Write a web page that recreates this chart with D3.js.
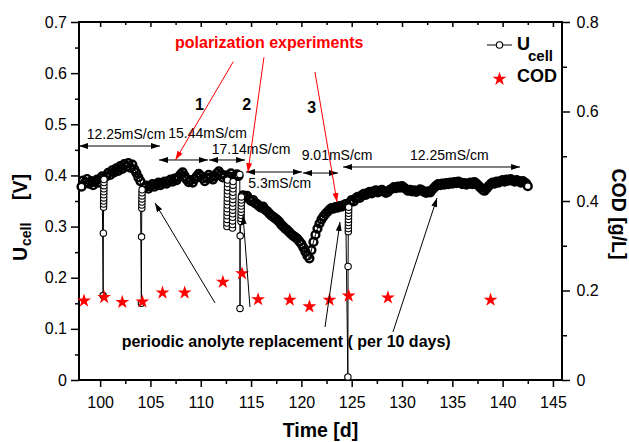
<!DOCTYPE html>
<html>
<head>
<meta charset="utf-8">
<script src="https://cdn.jsdelivr.net/npm/d3@7"></script>
<style>
  body { margin: 0; background: #fff; }
  svg { display: block; }
</style>
</head>
<body>
<svg id="chart"></svg>
<script>
// Cell voltage record, split at the anolyte replacements / polarization tests  [time d, Ucell V]
const periodA = [[98.15,0.378],[98.3,0.390],[98.5,0.386],[98.7,0.393],[98.9,0.384],[99.1,0.389],[99.3,0.381],
  [99.5,0.387],[99.7,0.392],[99.9,0.386],[100.05,0.394],[100.2,0.398]];
const dip1 = [[100.30,0.165],[100.32,0.287],[100.34,0.338],[100.345,0.344],[100.35,0.350],[100.355,0.356],
  [100.36,0.362],[100.365,0.368],[100.37,0.374],[100.375,0.380],[100.38,0.386],[100.385,0.392]];
const periodB = [[100.6,0.398],[100.8,0.405],[101.0,0.401],[101.2,0.410],[101.4,0.406],[101.6,0.414],[101.8,0.409],
  [102.0,0.418],[102.2,0.413],[102.4,0.422],[102.6,0.417],[102.8,0.424],[103.0,0.415],[103.2,0.421],[103.4,0.412],
  [103.6,0.405],[103.8,0.396],[104.0,0.389]];
const dip2 = [[104.10,0.150],[104.12,0.280],[104.14,0.336],[104.145,0.342],[104.15,0.348],[104.155,0.354],
  [104.16,0.360],[104.165,0.366],[104.17,0.372]];
const periodC = [[104.4,0.376],[104.6,0.380],[104.8,0.374],[105.0,0.379],[105.2,0.383],[105.4,0.378],[105.6,0.382],
  [105.8,0.386],[106.0,0.381],[106.2,0.385],[106.4,0.388],[106.6,0.384],[106.8,0.389],[107.0,0.392],[107.2,0.388],
  [107.4,0.394],[107.6,0.391],[107.8,0.397],[108.0,0.402],[108.2,0.406],[108.4,0.399],[108.6,0.392],[108.8,0.387],
  [109.0,0.391],[109.2,0.386],[109.4,0.393],[109.6,0.398],[109.8,0.403],[110.0,0.399],[110.2,0.394],[110.4,0.389],
  [110.6,0.395],[110.8,0.401],[111.0,0.396],[111.2,0.392],[111.4,0.398],[111.6,0.404],[111.8,0.408],[112.0,0.402],
  [112.2,0.396],[112.4,0.400]];
const dip3a = [[112.60,0.300],[112.605,0.307],[112.61,0.314],[112.615,0.321],[112.62,0.328],[112.625,0.335],
  [112.63,0.342],[112.635,0.349],[112.64,0.356],[112.645,0.363],[112.65,0.370],[112.655,0.377],[112.66,0.384],
  [112.665,0.391]];
const periodC2 = [[112.8,0.398],[113.0,0.404]];
const dip3b = [[113.15,0.297],[113.155,0.304],[113.16,0.311],[113.165,0.318],[113.17,0.325],[113.175,0.332],
  [113.18,0.339],[113.185,0.346],[113.19,0.353],[113.195,0.360],[113.20,0.367],[113.205,0.374],[113.21,0.381],
  [113.215,0.388]];
const periodD = [[113.4,0.398],[113.6,0.402],[113.75,0.399]];
const dip4 = [[113.88,0.402],[113.90,0.140],[113.92,0.282],[114.0,0.310],[114.005,0.316],[114.01,0.322],
  [114.015,0.328],[114.02,0.334],[114.025,0.340],[114.03,0.346],[114.035,0.352],[114.04,0.358]];
const periodE = [[114.2,0.361],[114.4,0.357],[114.6,0.360],[114.8,0.354],[115.0,0.350],[115.2,0.352],[115.4,0.346],
  [115.6,0.344],[115.8,0.340],[116.0,0.337],[116.2,0.339],[116.4,0.333],[116.6,0.330],[116.8,0.326],[117.0,0.322],
  [117.2,0.319],[117.4,0.316],[117.6,0.313],[117.8,0.309],[118.0,0.304],[118.2,0.300],[118.4,0.296],[118.6,0.293],
  [118.8,0.289],[119.0,0.285],[119.2,0.282],[119.4,0.279],[119.6,0.276],[119.8,0.271],[120.0,0.266],[120.2,0.259],
  [120.4,0.251],[120.6,0.243],[120.8,0.238],[121.0,0.254],[121.2,0.270],[121.4,0.284],[121.6,0.296],[121.8,0.306],
  [122.0,0.314],[122.2,0.320],[122.4,0.325],[122.6,0.329],[122.8,0.333],[123.0,0.336],[123.2,0.335],[123.4,0.338],
  [123.6,0.337],[123.8,0.340],[124.0,0.339],[124.2,0.342],[124.4,0.344]];
const dip5 = [[124.62,0.006],[124.64,0.222],[124.66,0.290],[124.665,0.296],[124.67,0.302],[124.675,0.308],
  [124.68,0.314],[124.685,0.320],[124.69,0.326],[124.695,0.332],[124.70,0.338]];
const periodF = [[124.85,0.348],[125.0,0.352],[125.2,0.349],[125.4,0.355],[125.6,0.358],[125.8,0.356],[126.0,0.361],
  [126.2,0.364],[126.4,0.362],[126.6,0.366],[126.8,0.368],[127.0,0.365],[127.2,0.369],[127.4,0.371],[127.6,0.367],
  [127.8,0.370],[128.0,0.372],[128.2,0.369],[128.4,0.366],[128.6,0.368],[128.8,0.372],[129.0,0.374],[129.2,0.377],
  [129.4,0.375],[129.6,0.378],[129.8,0.376],[130.0,0.379],[130.2,0.376],[130.4,0.373],[130.6,0.370],[130.8,0.372],
  [131.0,0.369],[131.2,0.371],[131.4,0.368],[131.6,0.370],[131.8,0.373],[132.0,0.371],[132.2,0.368],[132.4,0.366],
  [132.6,0.369],[132.8,0.367],[133.0,0.372],[133.2,0.376],[133.4,0.380],[133.6,0.383],[133.8,0.381],[134.0,0.384],
  [134.2,0.382],[134.4,0.385],[134.6,0.383],[134.8,0.386],[135.0,0.384],[135.2,0.387],[135.4,0.385],[135.6,0.388],
  [135.8,0.386],[136.0,0.383],[136.2,0.385],[136.4,0.382],[136.6,0.384],[136.8,0.386],[137.0,0.383],[137.2,0.387],
  [137.4,0.384],[137.6,0.380],[137.8,0.376],[138.0,0.372],[138.2,0.370],[138.4,0.374],[138.6,0.379],[138.8,0.383],
  [139.0,0.386],[139.2,0.384],[139.4,0.388],[139.6,0.386],[139.8,0.389],[140.0,0.391],[140.2,0.388],[140.4,0.392],
  [140.6,0.390],[140.8,0.393],[141.0,0.390],[141.2,0.388],[141.4,0.391],[141.6,0.389],[141.8,0.386],[142.0,0.389],
  [142.2,0.386],[142.35,0.384],[142.5,0.379]];

// COD samples
const codTime = [98.4, 100.4, 102.2, 104.2, 106.2, 108.4, 112.2, 114.1, 115.7, 118.85, 120.8, 122.8, 124.7, 128.6, 138.8];
const codValue = [0.177, 0.185, 0.174, 0.175, 0.195, 0.195, 0.219, 0.238, 0.180, 0.179, 0.164, 0.179, 0.188, 0.184, 0.179];

// ticks
const xTicks = [100, 105, 110, 115, 120, 125, 130, 135, 140, 145];
const xMinor = [102.5, 107.5, 112.5, 117.5, 122.5, 127.5, 132.5, 137.5, 142.5];
const uTicks = [0, 0.1, 0.2, 0.3, 0.4, 0.5, 0.6, 0.7];
const uMinor = [0.05, 0.15, 0.25, 0.35, 0.45, 0.55, 0.65];
const codTicks = [0, 0.2, 0.4, 0.6, 0.8];
const codMinor = [0.1, 0.3, 0.5, 0.7];

// conductivity periods: [from, to, level (V), label, label time, label level]
const condArrows = [
  [97.9, 105.95, 0.4575, "12.25mS/cm", 98.67, 0.4707],
  [105.85, 110.72, 0.4302, "15.44mS/cm", 106.77, 0.4726],
  [110.82, 114.4, 0.4302, "17.14mS/cm", 111.09, 0.4419],
  [114.5, 120.06, 0.4067, "5.3mS/cm", 114.72, 0.3754],
  [120.16, 123.64, 0.4047, "9.01mS/cm", 120.03, 0.4302],
  [124.14, 141.73, 0.4165, "12.25mS/cm", 130.8, 0.4302]
];
// polarization experiments (red) and anolyte replacements (black): [t0, u0, t1, u1]
const polarArrows = [[113.23, 0.6224, 107.49, 0.4302], [116.28, 0.631, 114.69, 0.4067], [121.35, 0.6022, 123.54, 0.348]];
const polarLabels = [["1", 109.86, 0.5279], ["2", 114.57, 0.5279], ["3", 121.03, 0.5215]];
const replaceArrows = [[111.42, 0.1506, 105.45, 0.3461], [114.89, 0.1427, 114.2, 0.3226],
  [122.35, 0.1036, 123.84, 0.3089], [129.1, 0.0939, 133.48, 0.3559]];

const width = 629, height = 442;
const font = "'Liberation Sans', Arial, Helvetica, sans-serif";
const plot = { left: 79, right: 562, top: 22, bottom: 380 };

const svg = d3.select("#chart").attr("width", width).attr("height", height)
  .attr("font-family", font);

const x = d3.scaleLinear().domain([97.9, 145.9]).range([plot.left, plot.right]);
const yU = d3.scaleLinear().domain([0, 0.7]).range([plot.bottom, plot.top]);
const yC = d3.scaleLinear().domain([0, 0.8]).range([plot.bottom, plot.top]);

const fmt = d => d === 0 ? "0" : d3.format(".1f")(d);

function styleAxis(g) {
  g.select(".domain").remove();
  g.selectAll(".tick line").attr("stroke", "#000").attr("stroke-width", 1.5);
  g.selectAll(".tick text").attr("fill", "#000").attr("font-size", 16).attr("font-family", font);
}

// arrow heads
const defs = svg.append("defs");
[["headBlack", "#000"], ["headRed", "#ff0000"]].forEach(([id, c]) => {
  defs.append("marker").attr("id", id)
    .attr("viewBox", "0 0 9 6").attr("refX", 9).attr("refY", 3)
    .attr("markerWidth", 9).attr("markerHeight", 6)
    .attr("markerUnits", "userSpaceOnUse").attr("orient", "auto-start-reverse")
    .append("path").attr("d", "M0,0L9,3L0,6Z").attr("fill", c);
});

// axes
svg.append("g").attr("transform", `translate(0,${plot.bottom})`)
  .call(d3.axisBottom(x).tickValues(xTicks).tickSize(7).tickPadding(9.6).tickFormat(d3.format("d"))).call(styleAxis);
svg.append("g").attr("transform", `translate(0,${plot.bottom})`)
  .call(d3.axisBottom(x).tickValues(xMinor).tickSize(4).tickFormat("")).call(styleAxis);
svg.append("g").attr("transform", `translate(0,${plot.top})`)
  .call(d3.axisTop(x).tickValues(xTicks).tickSize(-5).tickFormat("")).call(styleAxis);
svg.append("g").attr("transform", `translate(0,${plot.top})`)
  .call(d3.axisTop(x).tickValues(xMinor).tickSize(-3).tickFormat("")).call(styleAxis);
svg.append("g").attr("transform", `translate(${plot.left},0)`)
  .call(d3.axisLeft(yU).tickValues(uTicks).tickSize(8).tickPadding(4).tickFormat(fmt)).call(styleAxis);
svg.append("g").attr("transform", `translate(${plot.left},0)`)
  .call(d3.axisLeft(yU).tickValues(uMinor).tickSize(4).tickFormat("")).call(styleAxis);
svg.append("g").attr("transform", `translate(${plot.right},0)`)
  .call(d3.axisRight(yC).tickValues(codTicks).tickSize(8).tickPadding(6.5).tickFormat(fmt)).call(styleAxis);
svg.append("g").attr("transform", `translate(${plot.right},0)`)
  .call(d3.axisRight(yC).tickValues(codMinor).tickSize(5).tickFormat("")).call(styleAxis);

svg.append("rect")
  .attr("x", plot.left).attr("y", plot.top)
  .attr("width", plot.right - plot.left).attr("height", plot.bottom - plot.top)
  .attr("fill", "none").attr("stroke", "#000").attr("stroke-width", 2);

// axis titles
svg.append("text").attr("x", (plot.left + plot.right) / 2).attr("y", 437)
  .attr("text-anchor", "middle").attr("font-size", 19.5).attr("font-weight", "bold").text("Time [d]");

const leftTitle = svg.append("text").attr("transform", "rotate(-90)").attr("y", 27)
  .attr("font-weight", "bold").attr("font-size", 19.5);
leftTitle.append("tspan").attr("x", -261).text("U");
leftTitle.append("tspan").attr("x", -246).attr("dy", 4).attr("font-size", 14).text("cell");
leftTitle.append("tspan").attr("x", -200).attr("dy", -4).text("[V]");

svg.append("text").attr("transform", "rotate(90)").attr("x", 214).attr("y", -612)
  .attr("text-anchor", "middle").attr("font-size", 19.5).attr("font-weight", "bold").text("COD [g/L]");

// Ucell series: the long, densely logged stretches render as a dark band,
// the replacement / polarization dips as separate open circles
const bands = [periodA, periodB, periodC, periodC2, periodD, periodE, periodF];
const dips = [dip1, dip2, dip3a, dip3b, dip4, dip5];
const uCell = [].concat(periodA, dip1, periodB, dip2, periodC, dip3a,
  periodC2, dip3b, periodD, dip4, periodE, dip5, periodF);

svg.append("path").datum(uCell)
  .attr("d", d3.line().x(d => x(d[0])).y(d => yU(d[1])))
  .attr("fill", "none").attr("stroke", "#000").attr("stroke-width", 1);

const marks = svg.append("g");
marks.selectAll(".band").data(bands.flat()).join("circle")
  .attr("class", "band")
  .attr("cx", d => x(d[0])).attr("cy", d => yU(d[1])).attr("r", 3.9)
  .attr("fill", "none").attr("stroke", "#000").attr("stroke-width", 2.4);
marks.selectAll(".dip").data(dips.flat()).join("circle")
  .attr("class", "dip")
  .attr("cx", d => x(d[0])).attr("cy", d => yU(d[1])).attr("r", 3.2)
  .attr("fill", "#fff").attr("stroke", "#000").attr("stroke-width", 1.1);
// first and last logged points show as plain open circles
marks.selectAll(".ends").data([uCell[0], uCell[uCell.length - 1]]).join("circle")
  .attr("class", "ends")
  .attr("cx", d => x(d[0])).attr("cy", d => yU(d[1])).attr("r", 3.2)
  .attr("fill", "#fff").attr("stroke", "#000").attr("stroke-width", 1.1);

// COD series
const star = d3.symbol(d3.symbolStar).size(60);
svg.append("g").selectAll("path").data(codTime).join("path")
  .attr("transform", (d, i) => `translate(${x(d)},${yC(codValue[i])})`)
  .attr("d", star).attr("fill", "#ff0000");

// conductivity arrows
condArrows.forEach(([t0, t1, u, label, lt, lu]) => {
  svg.append("line")
    .attr("x1", x(t0)).attr("x2", x(t1)).attr("y1", yU(u)).attr("y2", yU(u))
    .attr("stroke", "#000").attr("stroke-width", 1)
    .attr("marker-start", "url(#headBlack)").attr("marker-end", "url(#headBlack)");
  svg.append("text").attr("x", x(lt)).attr("y", yU(lu)).attr("font-size", 14).text(label);
});

// polarization experiments
svg.append("text").attr("x", x(107.44)).attr("y", yU(0.6482))
  .attr("font-size", 16).attr("font-weight", "bold").attr("fill", "#ff0000")
  .text("polarization experiments");
polarArrows.forEach(([t0, u0, t1, u1]) => {
  svg.append("line").attr("x1", x(t0)).attr("y1", yU(u0)).attr("x2", x(t1)).attr("y2", yU(u1))
    .attr("stroke", "#ff0000").attr("stroke-width", 1).attr("marker-end", "url(#headRed)");
});
polarLabels.forEach(([s, t, u]) => {
  svg.append("text").attr("x", x(t)).attr("y", yU(u)).attr("text-anchor", "middle")
    .attr("font-size", 16).attr("font-weight", "bold").text(s);
});

// anolyte replacement
svg.append("text").attr("x", x(102.14)).attr("y", yU(0.0645))
  .attr("font-size", 16).attr("font-weight", "bold")
  .text("periodic anolyte replacement ( per 10 days)");
replaceArrows.forEach(([t0, u0, t1, u1]) => {
  svg.append("line").attr("x1", x(t0)).attr("y1", yU(u0)).attr("x2", x(t1)).attr("y2", yU(u1))
    .attr("stroke", "#000").attr("stroke-width", 1).attr("marker-end", "url(#headBlack)");
});

// legend
const legend = svg.append("g");
legend.append("line").attr("x1", 487).attr("x2", 512).attr("y1", 45).attr("y2", 45)
  .attr("stroke", "#000").attr("stroke-width", 1);
legend.append("circle").attr("cx", 499.5).attr("cy", 45).attr("r", 3.2)
  .attr("fill", "#fff").attr("stroke", "#000").attr("stroke-width", 1.1);
const uText = legend.append("text").attr("x", 517).attr("y", 49.5).attr("font-weight", "bold").attr("font-size", 18);
uText.append("tspan").text("U");
uText.append("tspan").attr("x", 528).attr("y", 61).attr("font-size", 15).text("cell");
legend.append("path").attr("transform", "translate(499.5,79)").attr("d", star).attr("fill", "#ff0000");
legend.append("text").attr("x", 517).attr("y", 82).attr("font-weight", "bold").attr("font-size", 18).text("COD");
</script>
</body>
</html>
